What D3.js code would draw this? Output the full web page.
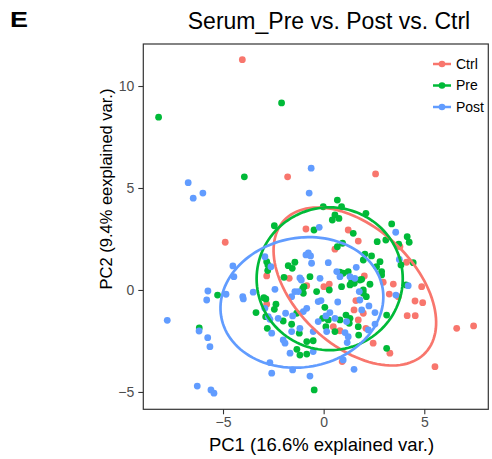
<!DOCTYPE html>
<meta charset="utf-8">
<head>
  <title>Serum PCA</title>
</head>
<style>
body {
  margin: 0;
  background: #fff;
  font-family: "Liberation Sans", Arial, Helvetica, sans-serif;
}
.tick text {
  fill: #4d4d4d;
  font-size: 14px;
  font-family: "Liberation Sans", Arial, Helvetica, sans-serif;
}
.tick line {
  stroke: #333;
  stroke-width: 1.1px;
}
</style>
<body>
<svg id="chart" width="492" height="459"></svg>

<script src="https://cdnjs.cloudflare.com/ajax/libs/d3/7.8.5/d3.min.js"></script>
<script>
// groups, in legend order
var groups = ["Ctrl", "Pre", "Post"];
var colors = ["#F8766D", "#00BA38", "#619CFF"];

var xTicks = [-5, 0, 5];
var yTicks = [-5, 0, 5, 10];

// PC1 / PC2 scores
var ctrlPoints = [
  [-4.04,11.29],[-1.79,5.55],[2.58,5.69],[-4.89,2.34],[-0.88,2.99],[1.22,2.94],[1.72,2.40],
  [0.56,2.00],[3.79,2.12],[4.12,1.36],[-2.83,0.69],[-1.71,0.57],[-0.84,0.21],[-2.83,-0.70],
  [0.01,0.16],[0.28,0.29],[2.02,0.69],[2.96,0.38],[3.46,0.29],[4.87,0.16],[3.26,-0.20],
  [3.71,-0.33],[1.60,-0.52],[4.54,-0.54],[4.92,-0.62],[1.51,-0.98],[1.97,-1.14],[4.15,-1.26],
  [4.55,-1.26],[1.72,-1.47],[2.10,-1.88],[0.48,-1.80],[0.81,-2.00],[2.46,-2.61],[3.29,-3.10],
  [0.92,-3.51],[5.53,-3.76],[6.61,-1.88],[7.45,-1.76]
];

var prePoints = [
  [-3.94,5.55],[-2.09,9.17],[-8.20,8.47],[0.68,4.41],[-0.02,4.08],[0.89,4.08],[2.10,3.76],
  [0.43,3.43],[0.76,3.51],[0.56,3.68],[3.38,3.24],[-0.48,2.94],[1.47,2.78],[2.66,2.37],
  [3.09,2.45],[4.15,2.61],[4.25,2.34],[3.73,2.25],[0.68,2.12],[4.45,1.34],[3.84,1.23],
  [2.05,1.76],[2.38,1.67],[2.80,1.39],[2.63,1.14],[2.88,0.90],[0.97,0.82],[1.22,0.90],
  [1.39,0.41],[1.52,0.33],[2.30,0.28],[1.89,0.52],[1.97,-0.16],[2.12,-0.33],[4.09,0.25],
  [3.13,-1.23],[1.72,-1.80],[1.74,-2.21],[1.27,-1.63],[0.81,-1.47],[0.06,-0.85],[-0.05,-1.39],
  [0.23,-1.47],[0.56,-2.04],[0.11,-1.80],[-0.84,-2.53],[-0.52,-2.49],[-0.84,-3.14],[3.13,-2.86],
  [-0.47,-4.90],[-1.01,-0.16],[-0.98,0.16],[-0.68,0.65],[-0.35,-0.08],[0.28,0.00],[-2.45,3.15],
  [-2.83,1.39],[-2.77,1.23],[-2.78,0.95],[-1.76,1.19],[-1.43,1.36],[-1.56,1.06],[-1.97,0.62],
  [-2.97,-0.38],[-2.87,-0.44],[-2.37,-0.70],[-2.45,-0.95],[-3.36,-1.11],[-2.88,-1.31],[-2.01,-1.52],
  [-2.80,-1.88],[-1.59,-1.68],[-1.21,-2.12],[-1.33,-2.91],[-1.18,-3.19],[-5.27,-0.25],[-6.18,-1.86],
  [-1.34,-1.14],[0.94,2.29],[0.81,0.87],[1.97,1.47],[2.88,0.74],[1.80,0.49],[0.89,0.16],
  [1.31,0.25],[1.97,0.00],[1.11,-1.23],[1.31,-1.39],[-1.04,0.08]
];

var postPoints = [
  [-0.62,5.97],[-0.72,4.75],[-6.73,5.26],[-6.00,4.75],[-6.48,4.50],[3.58,2.83],[-0.22,3.07],
  [-0.88,1.72],[-0.65,1.67],[-0.60,1.31],[0.23,1.34],[3.76,1.50],[4.20,0.21],[3.59,-0.25],
  [1.51,-3.89],[-0.68,-4.22],[1.89,-0.98],[2.25,-0.78],[2.55,-1.11],[2.22,-1.96],[2.55,-1.67],
  [0.65,0.90],[0.81,0.65],[1.62,1.11],[1.55,0.57],[1.77,-0.08],[0.70,-0.59],[0.15,-2.04],
  [1.06,-2.09],[1.17,-2.58],[-0.52,-3.02],[-0.18,0.57],[-0.13,-0.52],[-4.51,1.18],[-4.46,0.65],
  [-5.75,-0.05],[-5.81,-0.49],[-4.85,-0.21],[-4.02,-0.33],[-3.99,-0.44],[-3.50,-0.11],[-7.77,-1.49],
  [-6.19,-2.01],[-5.76,-2.34],[-5.65,-2.78],[-6.28,-4.71],[-5.60,-4.90],[-5.45,-5.06],[-2.58,-4.08],
  [-1.54,-3.92],[-2.67,-3.56],[-2.62,1.14],[-1.11,0.49],[-2.42,0.03],[-1.43,-0.08],[-1.59,-0.33],
  [-2.92,-0.90],[-2.75,-1.31],[-2.26,-1.39],[-1.89,-1.14],[-1.54,-1.27],[-1.01,-1.06],[-2.58,-2.12],
  [-1.92,-2.61],[-1.67,-3.10],[-0.52,-2.04],[-0.27,-1.55],[1.14,-1.55],[0.97,-3.43],[1.80,-0.49],
  [-1.18,0.59],[-1.26,-0.08],[-0.27,-0.57],[0.11,-1.27],[0.31,-1.11],[0.56,-1.39],[-0.84,-0.90],
  [-2.67,-1.44],[-1.18,-1.88],[-1.59,-2.04],[-2.01,-2.45],[1.22,-2.29],[1.31,0.65],[-2.92,1.63],
  [-0.76,1.82]
];

// 68% normal ellipses: centre, semi axes, rotation (degrees)
var ellipseCx = [1.55, 0.30, -1.08];
var ellipseCy = [0.17, 0.55, -0.61];
var ellipseA = [4.78, 3.63, 4.07];
var ellipseB = [2.91, 3.50, 3.17];
var ellipseAngle = [-42.4, 0, 10];

var svg = d3.select("#chart");

var x = d3.scaleLinear().domain([-8.96, 8.18]).range([143.3, 488.3]);
var y = d3.scaleLinear().domain([-5.85, 12.06]).range([409.3, 44]);

// points
var allPoints = [ctrlPoints, prePoints, postPoints];
allPoints.forEach(function(pts, g) {
  svg.append("g")
    .selectAll("circle")
    .data(pts)
    .enter().append("circle")
      .attr("cx", function(d) { return x(d[0]); })
      .attr("cy", function(d) { return y(d[1]); })
      .attr("r", 3.4)
      .attr("fill", colors[g]);
});

// ellipses
var line = d3.line()
  .x(function(d) { return x(d[0]); })
  .y(function(d) { return y(d[1]); })
  .curve(d3.curveLinearClosed);

groups.forEach(function(name, g) {
  var th = ellipseAngle[g] * Math.PI / 180;
  var pts = d3.range(120).map(function(i) {
    var t = 2 * Math.PI * i / 120;
    var ex = ellipseA[g] * Math.cos(t), ey = ellipseB[g] * Math.sin(t);
    return [ellipseCx[g] + ex * Math.cos(th) - ey * Math.sin(th),
            ellipseCy[g] + ex * Math.sin(th) + ey * Math.cos(th)];
  });
  svg.append("path")
    .attr("d", line(pts))
    .attr("fill", "none")
    .attr("stroke", colors[g])
    .attr("stroke-width", 2.7);
});

// panel border
svg.append("rect")
  .attr("x", 143.3).attr("y", 44)
  .attr("width", 345).attr("height", 365.3)
  .attr("fill", "none")
  .attr("stroke", "#333")
  .attr("stroke-width", 1.2);

// axes
var xAxis = svg.append("g")
  .attr("transform", "translate(0,409.3)")
  .call(d3.axisBottom(x).tickValues(xTicks).tickSize(5).tickPadding(3));
xAxis.select(".domain").remove();

var yAxis = svg.append("g")
  .attr("transform", "translate(143.3,0)")
  .call(d3.axisLeft(y).tickValues(yTicks).tickSize(5).tickPadding(4));
yAxis.select(".domain").remove();

// legend
var legend = svg.append("g");
var legendY = [64, 85.5, 107];
groups.forEach(function(name, g) {
  legend.append("line")
    .attr("x1", 433).attr("x2", 451)
    .attr("y1", legendY[g]).attr("y2", legendY[g])
    .attr("stroke", colors[g])
    .attr("stroke-width", 2.5);
  legend.append("circle")
    .attr("cx", 442).attr("cy", legendY[g])
    .attr("r", 3.3)
    .attr("fill", colors[g]);
  legend.append("text")
    .attr("x", 456).attr("y", legendY[g])
    .attr("dy", "0.35em")
    .style("font-size", "14px")
    .attr("fill", "#000")
    .text(name);
});

// titles
svg.append("text")
  .attr("x", 10).attr("y", 27)
  .style("font-size", "22px")
  .style("font-weight", "bold")
  .attr("textLength", 18)
  .attr("lengthAdjust", "spacingAndGlyphs")
  .text("E");

svg.append("text")
  .attr("x", 329).attr("y", 29)
  .attr("text-anchor", "middle")
  .style("font-size", "23px")
  .text("Serum_Pre vs. Post vs. Ctrl");

svg.append("text")
  .attr("x", 321.5).attr("y", 451)
  .attr("text-anchor", "middle")
  .style("font-size", "18.5px")
  .text("PC1 (16.6% explained var.)");

svg.append("text")
  .attr("transform", "translate(112,189) rotate(-90)")
  .attr("text-anchor", "middle")
  .style("font-size", "16.5px")
  .text("PC2 (9.4% eexplained var.)");
</script>
</body>
